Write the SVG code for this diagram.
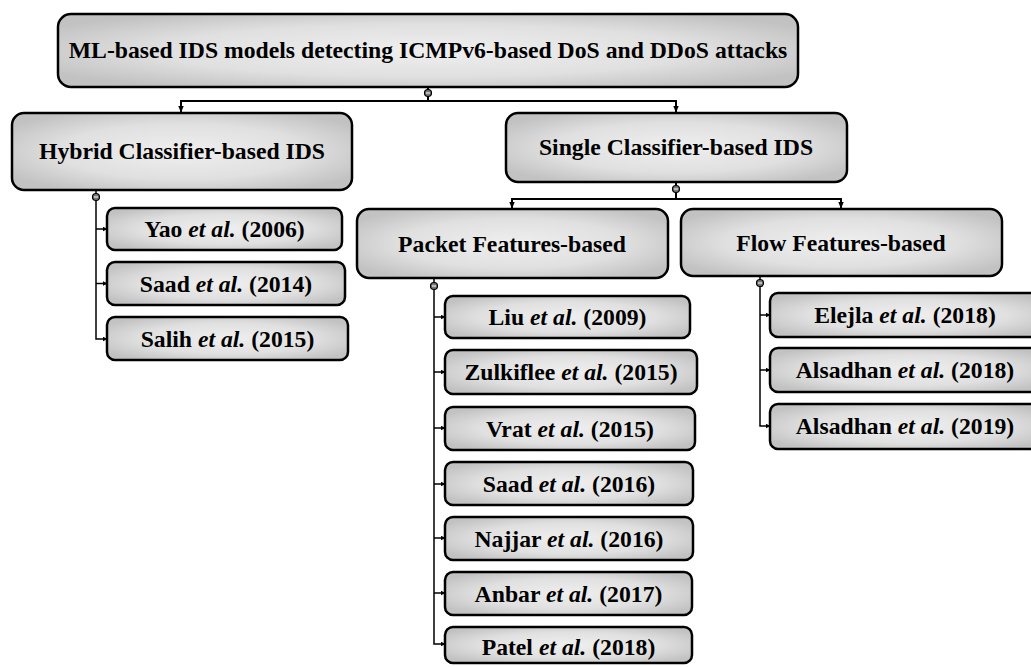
<svg xmlns="http://www.w3.org/2000/svg" width="1031" height="667" viewBox="0 0 1031 667">
<defs>
<radialGradient id="g" cx="50%" cy="50%" r="60%">
<stop offset="0%" stop-color="#efefef"/>
<stop offset="60%" stop-color="#e0e0e0"/>
<stop offset="100%" stop-color="#c2c2c2"/>
</radialGradient>
<marker id="ah" viewBox="0 0 10 10" refX="9" refY="5" markerWidth="5" markerHeight="5" orient="auto" markerUnits="userSpaceOnUse">
<path d="M0,0 L10,5 L0,10 z" fill="#000"/>
</marker>
<marker id="ah2" viewBox="0 0 10 10" refX="9" refY="5" markerWidth="7" markerHeight="7" orient="auto" markerUnits="userSpaceOnUse">
<path d="M0,1 L10,5 L0,9 z" fill="#000"/>
</marker>
</defs>
<style>
.b{fill:url(#g);stroke:#000;stroke-width:2.5}
.t{font-weight:bold;fill:#000;text-anchor:middle;font-size:23.7px}
.i{font-style:italic}
.ln{fill:none;stroke:#000;stroke-width:2}
.ln2{fill:none;stroke:#000;stroke-width:1.5}
.dot{fill:#777;stroke:#000;stroke-width:1.2}
.dm{stroke:#fff;stroke-width:1}
</style>

<g id="connectors">
<path class="ln" d="M428,87 V101 H181 V112" marker-end="url(#ah2)"/>
<path class="ln" d="M428,101 H676 V112" marker-end="url(#ah2)"/>
<path class="ln" d="M676,183 V199 H512 V208" marker-end="url(#ah2)"/>
<path class="ln" d="M676,199 H841 V208" marker-end="url(#ah2)"/>
<path class="ln2" d="M96,191 V339 H107" marker-end="url(#ah)"/>
<path class="ln2" d="M96,229 H107" marker-end="url(#ah)"/>
<path class="ln2" d="M96,283.5 H107" marker-end="url(#ah)"/>
<path class="ln2" d="M434,279 V644 H445" marker-end="url(#ah)"/>
<path class="ln2" d="M434,317 H445" marker-end="url(#ah)"/>
<path class="ln2" d="M434,372 H445" marker-end="url(#ah)"/>
<path class="ln2" d="M434,428 H445" marker-end="url(#ah)"/>
<path class="ln2" d="M434,484 H445" marker-end="url(#ah)"/>
<path class="ln2" d="M434,538 H445" marker-end="url(#ah)"/>
<path class="ln2" d="M434,593 H445" marker-end="url(#ah)"/>
<path class="ln2" d="M760,277 V426 H770" marker-end="url(#ah)"/>
<path class="ln2" d="M760,315 H770" marker-end="url(#ah)"/>
<path class="ln2" d="M760,370 H770" marker-end="url(#ah)"/>
<circle class="dot" cx="428" cy="93" r="3.5"/><path class="dm" d="M426,93 H430"/>
<circle class="dot" cx="96" cy="197" r="3.5"/><path class="dm" d="M94,197 H98"/>
<circle class="dot" cx="676" cy="189" r="3.5"/><path class="dm" d="M674,189 H678"/>
<circle class="dot" cx="434" cy="286" r="3.5"/><path class="dm" d="M432,286 H436"/>
<circle class="dot" cx="760" cy="283" r="3.5"/><path class="dm" d="M758,283 H762"/>
</g>

<g font-family="Liberation Serif, Times New Roman, serif">
<g id="root"><rect class="b" x="58" y="14" width="740" height="73" rx="13"/>
<text class="t" x="428" y="58">ML-based IDS models detecting ICMPv6-based DoS and DDoS attacks</text></g>

<g id="hybrid"><rect class="b" x="12" y="113" width="340" height="77" rx="12"/>
<text class="t" x="182" y="159">Hybrid Classifier-based IDS</text></g>

<g id="single"><rect class="b" x="506" y="113" width="341" height="69" rx="12"/>
<text class="t" x="676" y="155">Single Classifier-based IDS</text></g>

<g id="packet"><rect class="b" x="357" y="209" width="311" height="69" rx="12"/>
<text class="t" x="512" y="252">Packet Features-based</text></g>

<g id="flow"><rect class="b" x="681" y="209" width="321" height="67" rx="12"/>
<text class="t" x="841" y="251">Flow Features-based</text></g>

<g id="yao"><rect class="b" x="107" y="208" width="235" height="42" rx="8"/>
<text class="t" x="224.5" y="237">Yao <tspan class="i">et al.</tspan> (2006)</text></g>
<g id="saad2014"><rect class="b" x="107" y="262" width="238" height="43" rx="8"/>
<text class="t" x="226" y="292">Saad <tspan class="i">et al.</tspan> (2014)</text></g>
<g id="salih"><rect class="b" x="107" y="317" width="241" height="43" rx="8"/>
<text class="t" x="227.5" y="347">Salih <tspan class="i">et al.</tspan> (2015)</text></g>

<g id="liu"><rect class="b" x="445" y="296" width="245" height="42" rx="8"/>
<text class="t" x="567.5" y="325">Liu <tspan class="i">et al.</tspan> (2009)</text></g>
<g id="zulkiflee"><rect class="b" x="445" y="350" width="252" height="44" rx="8"/>
<text class="t" x="571" y="380">Zulkiflee <tspan class="i">et al.</tspan> (2015)</text></g>
<g id="vrat"><rect class="b" x="445" y="407" width="250" height="43" rx="8"/>
<text class="t" x="570" y="437">Vrat <tspan class="i">et al.</tspan> (2015)</text></g>
<g id="saad2016"><rect class="b" x="445" y="462" width="248" height="43" rx="8"/>
<text class="t" x="569" y="492">Saad <tspan class="i">et al.</tspan> (2016)</text></g>
<g id="najjar"><rect class="b" x="445" y="517" width="248" height="43" rx="8"/>
<text class="t" x="569" y="547">Najjar <tspan class="i">et al.</tspan> (2016)</text></g>
<g id="anbar"><rect class="b" x="445" y="572" width="247" height="43" rx="8"/>
<text class="t" x="568.5" y="602">Anbar <tspan class="i">et al.</tspan> (2017)</text></g>
<g id="patel"><rect class="b" x="445" y="627" width="247" height="36" rx="8"/>
<text class="t" x="568.5" y="655">Patel <tspan class="i">et al.</tspan> (2018)</text></g>

<g id="elejla"><rect class="b" x="770" y="293" width="275" height="44" rx="8"/>
<text class="t" x="905" y="323">Elejla <tspan class="i">et al.</tspan> (2018)</text></g>
<g id="alsadhan2018"><rect class="b" x="770" y="348" width="275" height="44" rx="8"/>
<text class="t" x="905" y="378">Alsadhan <tspan class="i">et al.</tspan> (2018)</text></g>
<g id="alsadhan2019"><rect class="b" x="770" y="404" width="275" height="45" rx="8"/>
<text class="t" x="905" y="434">Alsadhan <tspan class="i">et al.</tspan> (2019)</text></g>
</g>
</svg>
